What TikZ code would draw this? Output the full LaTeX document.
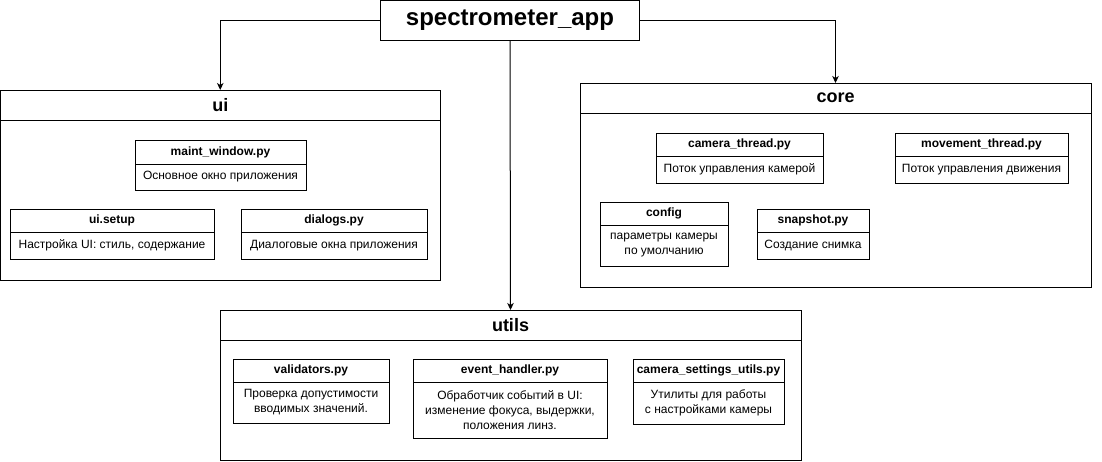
\documentclass[tikz,border=0pt]{standalone}
\usepackage{fontspec}
\setmainfont{Liberation Sans}
\usetikzlibrary{positioning,arrows.meta}

\tikzset{
  pkghead/.style={draw,line width=1pt,outer sep=0pt,inner sep=0pt,anchor=north west,
    minimum height=30pt,font=\fontsize{18}{21}\selectfont\bfseries},
  pkgbody/.style={draw,line width=1pt,outer sep=0pt,inner sep=0pt},
  clshead/.style={draw,line width=1pt,outer sep=0pt,inner sep=0pt,anchor=north west,
    minimum height=23pt,font=\fontsize{12}{14}\selectfont\bfseries},
  clsbody/.style={draw,line width=1pt,outer sep=0pt,inner sep=0pt,align=center,
    font=\fontsize{12}{15}\selectfont},
  link/.style={line width=1pt,-{Stealth[length=7pt,width=6.5pt,inset=2pt]}}
}

\begin{document}
\begin{tikzpicture}[x=1pt,y=-1pt]
\useasboundingbox (0,0) rectangle (1102,461);

% Application
\node[draw,line width=1pt,outer sep=0pt,minimum width=259pt,minimum height=40pt,
  font=\fontsize{24}{28}\selectfont\bfseries] (app) at (510,20) {spectrometer\_app};

% ui package
\node[pkghead,minimum width=439.5pt] (ui) at (0.5,90) {ui};
\node[pkgbody,minimum width=439.5pt,minimum height=160pt,below=0pt of ui] (uib) {};

\node[clshead,minimum width=171pt,minimum height=24pt] (mw) at (135,140) {maint\_window.py};
\node[clsbody,minimum width=171pt,minimum height=26pt,below=0pt of mw] (mwb) {Основное окно приложения};
\node[clshead,minimum width=204pt] (setup) at (10,209) {ui.setup};
\node[clsbody,minimum width=204pt,minimum height=27pt,below=0pt of setup] (setupb) {Настройка UI: стиль, содержание};
\node[clshead,minimum width=186pt] (dlg) at (241,209) {dialogs.py};
\node[clsbody,minimum width=186pt,minimum height=27pt,below=0pt of dlg] (dlgb) {Диалоговые окна приложения};

% core package
\node[pkghead,minimum width=511pt] (core) at (580,83) {core};
\node[pkgbody,minimum width=511pt,minimum height=174pt,below=0pt of core] (coreb) {};

\node[clshead,minimum width=167pt] (cam) at (656,133) {camera\_thread.py};
\node[clsbody,minimum width=167pt,minimum height=27pt,below=0pt of cam] (camb) {Поток управления камерой};
\node[clshead,minimum width=173pt] (mov) at (895,133) {movement\_thread.py};
\node[clsbody,minimum width=173pt,minimum height=27pt,below=0pt of mov] (movb) {Поток управления движения};
\node[clshead,minimum width=128pt] (cfg) at (600,202) {config};
\node[clsbody,minimum width=128pt,minimum height=41pt,below=0pt of cfg] (cfgb) {параметры камеры\\по умолчанию};
\node[clshead,minimum width=112pt] (snap) at (757,209) {snapshot.py};
\node[clsbody,minimum width=112pt,minimum height=27pt,below=0pt of snap] (snapb) {Создание снимка};

% utils package
\node[pkghead,minimum width=581pt] (utils) at (220,310) {utils};
\node[pkgbody,minimum width=581pt,minimum height=120pt,below=0pt of utils] (utilsb) {};

\node[clshead,minimum width=156pt] (val) at (233,359) {validators.py};
\node[clsbody,minimum width=156pt,minimum height=41pt,below=0pt of val] (valb) {Проверка допустимости\\вводимых значений.};
\node[clshead,minimum width=194pt] (evh) at (413,359) {event\_handler.py};
\node[clsbody,minimum width=194pt,minimum height=56pt,below=0pt of evh] (evhb) {Обработчик событий в UI:\\изменение фокуса, выдержки,\\положения линз.};
\node[clshead,minimum width=151pt] (css) at (633,359) {camera\_settings\_utils.py};
\node[clsbody,minimum width=151pt,minimum height=42pt,below=0pt of css] (cssb) {Утилиты для работы\\с настройками камеры};

% Connectors
\draw[link] (app.west) -| (ui.north);
\draw[link] (app.east) -| (core.north);
\draw[link] (app.south) -- (utils.north);
\end{tikzpicture}
\end{document}
